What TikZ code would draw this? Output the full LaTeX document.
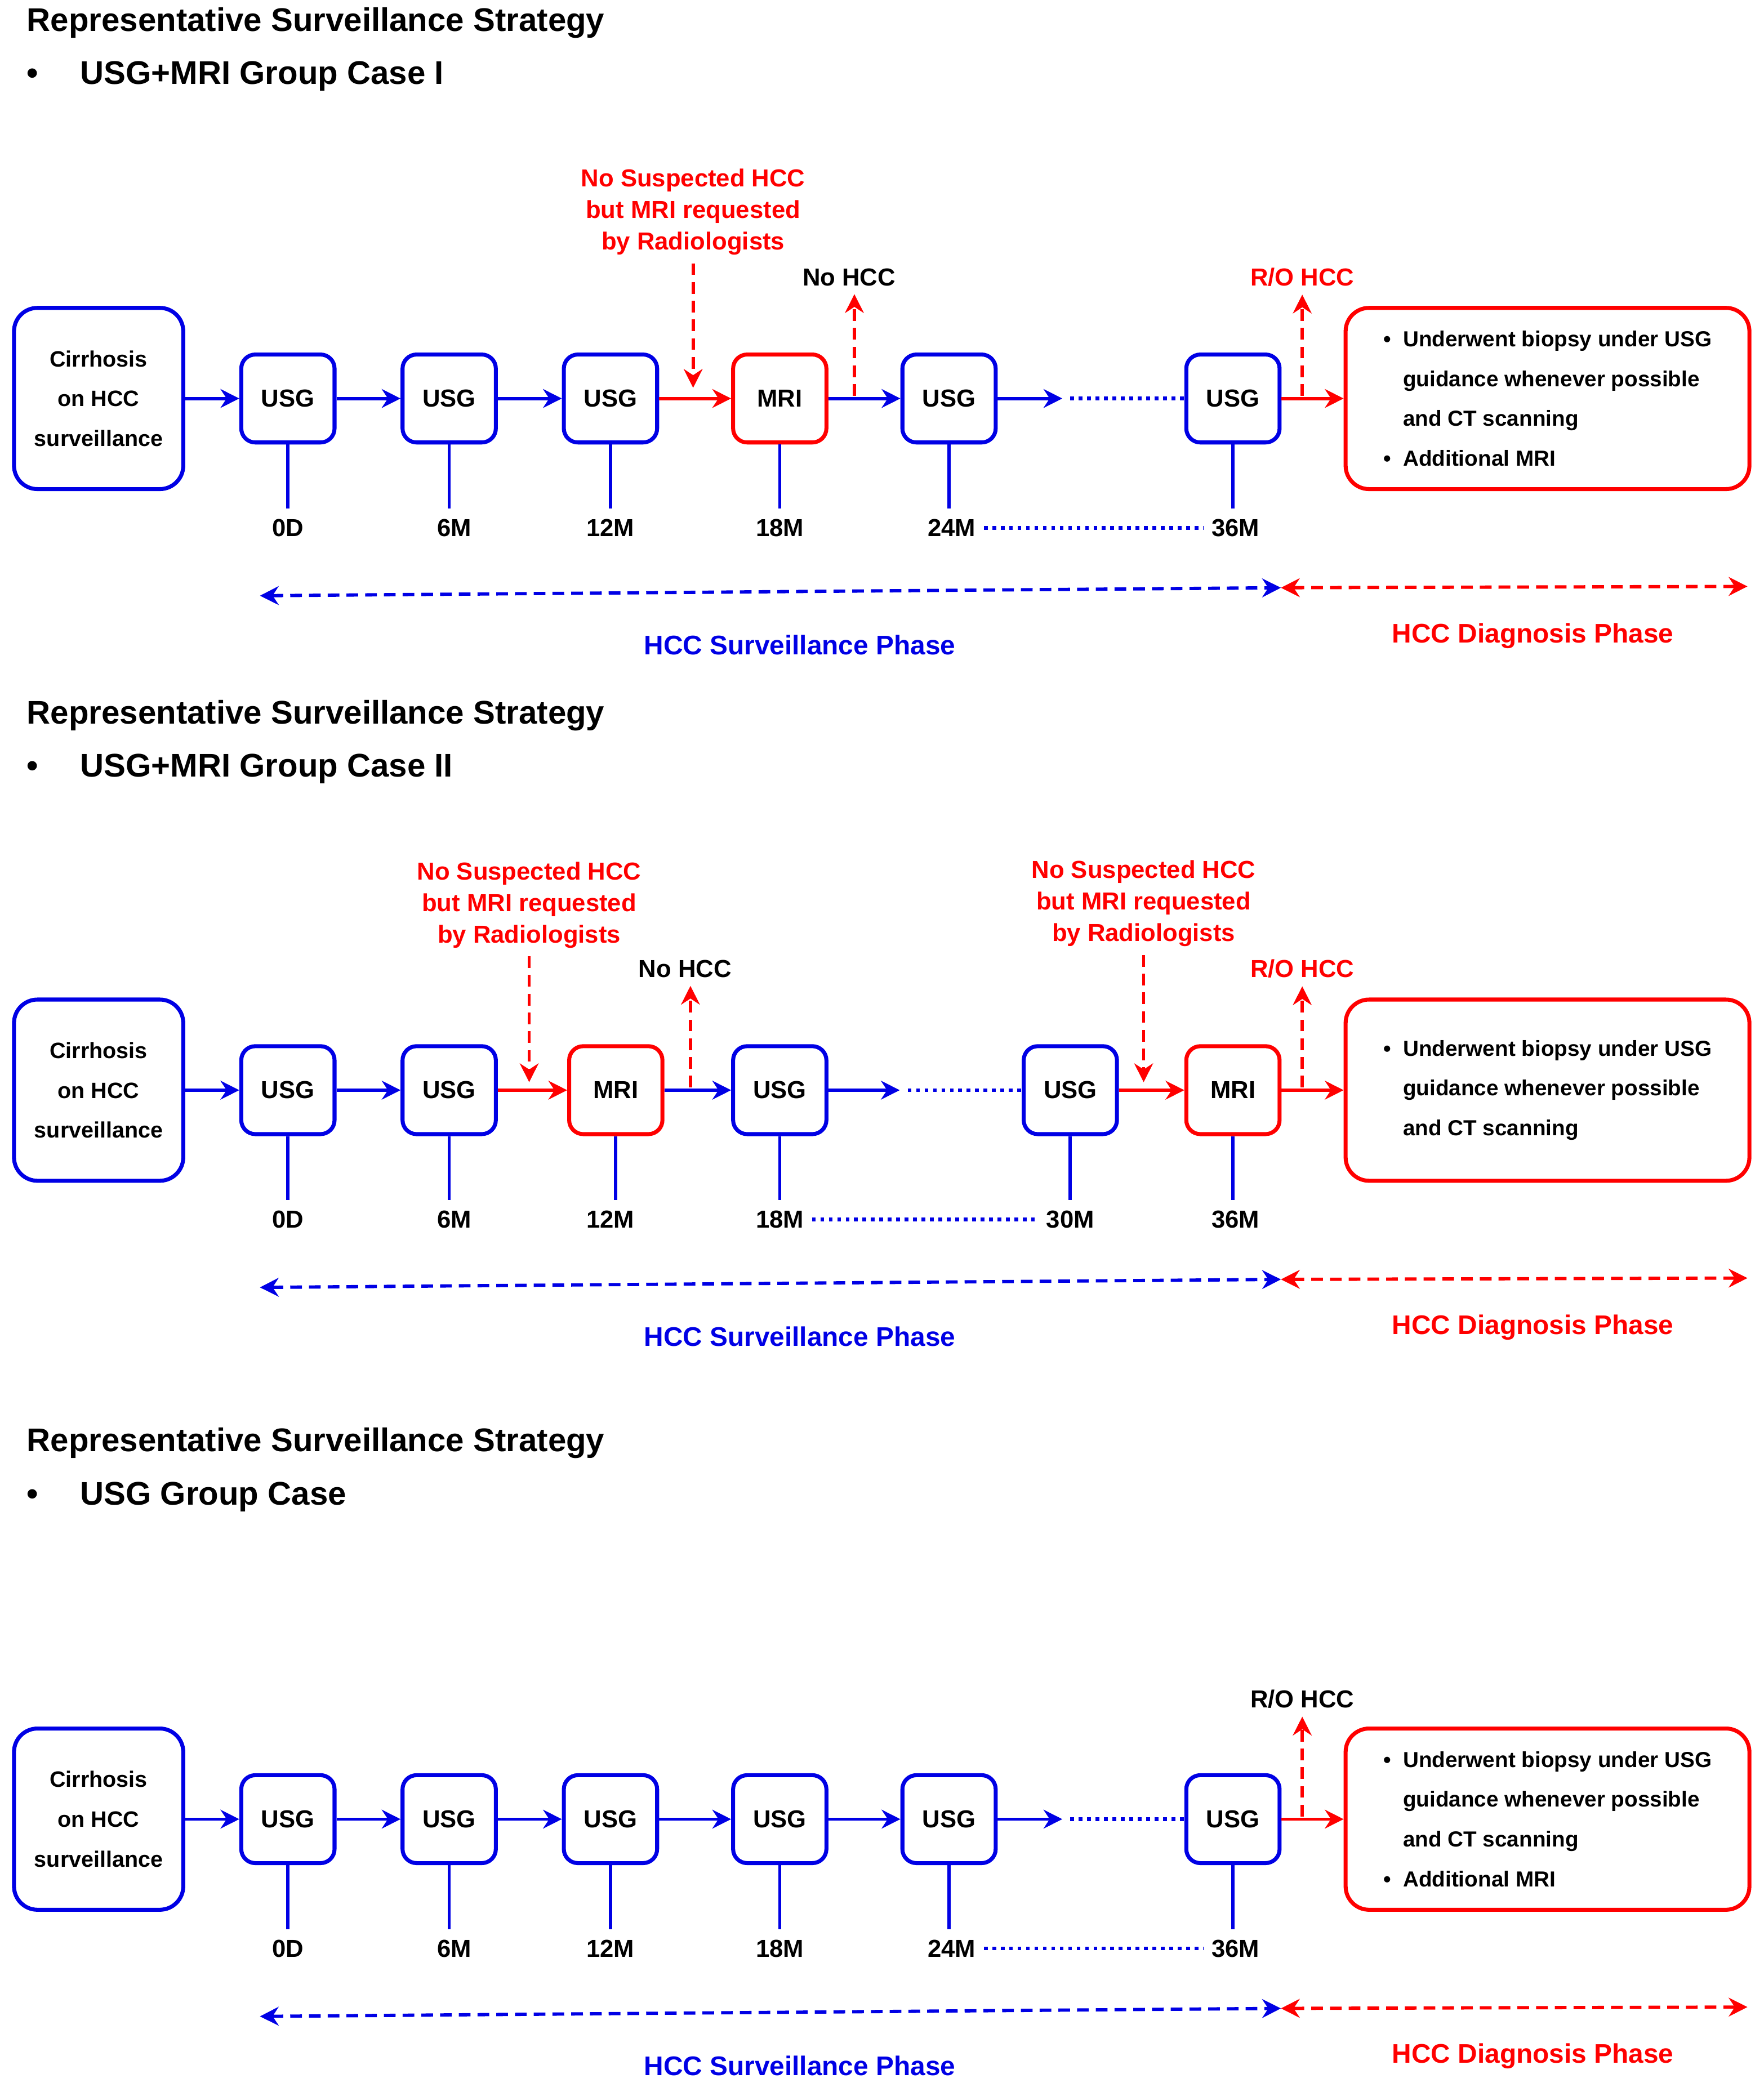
\documentclass[tikz,border=0pt]{standalone}
\usepackage{fontspec}
\setmainfont{Liberation Sans}
\usetikzlibrary{positioning,arrows.meta}
\tikzset{>={Stealth[length=8pt,width=8pt]}}
\colorlet{penBlue}{blue!90!black}
\colorlet{penRed}{red}
\tikzset{
  box/.style={draw=penBlue, line width=1.7pt, rounded corners=6pt, minimum width=1.4cm, minimum height=1.32cm, font=\fontsize{10.5}{13}\selectfont\bfseries},
  usg/.style={box},
  mri/.style={box, draw=penRed},
  cir/.style={box, minimum width=2.54cm, minimum height=2.72cm, align=center, rounded corners=10pt, font=\fontsize{9.5}{17}\selectfont\bfseries},
  big/.style={box, draw=penRed, minimum width=6.06cm, minimum height=2.72cm, align=left, rounded corners=10pt, font=\fontsize{9.3}{17}\selectfont\bfseries},
  barr/.style={->, penBlue, line width=1.4pt},
  rarr/.style={->, penRed, line width=1.4pt},
  rdash/.style={->, penRed, line width=1.4pt, dash pattern=on 5pt off 3pt},
  bdash/.style={<->, penBlue, line width=1.4pt, dash pattern=on 5pt off 3pt},
  rdashb/.style={<->, penRed, line width=1.4pt, dash pattern=on 5pt off 3pt},
  bdot/.style={penBlue, line width=1.6pt, dotted},
  tick/.style={penBlue, line width=1.4pt},
  lab/.style={font=\fontsize{10.5}{13}\selectfont\bfseries},
  rlab/.style={lab, text=penRed, align=center, font=\fontsize{10.5}{13.5}\selectfont\bfseries},
  title/.style={anchor=west, font=\fontsize{14}{16}\selectfont\bfseries},
  blphase/.style={lab, text=penBlue, font=\fontsize{11.5}{14}\selectfont\bfseries},
  rphase/.style={lab, text=penRed, font=\fontsize{11.5}{14}\selectfont\bfseries},
}
\begin{document}
\begin{tikzpicture}[x=0.02cm, y=-0.02cm]
\useasboundingbox (0,0) rectangle (1323,1563);

% ---- case I
\node[title] (t1) at (14,17) {Representative Surveillance Strategy};
\node[title] (s1) at (14,57) {\textbullet\quad\ USG+MRI Group Case I};
\node[cir] (a0) at (74,299) {Cirrhosis\\on HCC\\surveillance};
\node[usg] (a1) at (216,299) {USG};
\node[usg] (a2) at (337,299) {USG};
\node[usg] (a3) at (458,299) {USG};
\node[mri] (a4) at (585,299) {MRI};
\node[usg] (a5) at (712,299) {USG};
\node[usg] (a6) at (925,299) {USG};
\node[big] (aD) at (1161,299) {\textbullet\ \ Underwent biopsy under USG\\\phantom{\textbullet\ \ }guidance whenever possible\\\phantom{\textbullet\ \ }and CT scanning\\\textbullet\ \ Additional MRI};
\draw[barr] (a0) -- (a1);
\draw[barr] (a1) -- (a2);
\draw[barr] (a2) -- (a3);
\draw[rarr] (a3) -- (a4);
\draw[barr] (a4) -- (a5);
\coordinate (a5e) at (797,299);
\draw[barr] (a5) -- (a5e);
\draw[bdot] (803,299) -- (a6.west);
\draw[rarr] (a6) -- (aD);
\node[rlab] (aq) at (520,159) {No Suspected HCC\\but MRI requested\\by Radiologists};
\coordinate (aqe) at (520,291);
\draw[rdash] (aq.south) -- (aqe);
\node[lab] (an) at (637,208) {No HCC};
\coordinate (ans) at (641,297);
\draw[rdash] (ans) -- (ans |- an.south);
\node[rlab] (ar) at (977,208) {R/O HCC};
\coordinate (ars) at (977,297);
\draw[rdash] (ars) -- (ar.south);
\foreach \n/\t/\x in {1/0D/216,2/6M/341,3/12M/458,4/18M/585,5/24M/714,6/36M/927}{
  \node[lab] (al\n) at (\x,396) {\t};
  \draw[tick] (a\n.south) -- ++(0,48);
}
\draw[bdot] (al5.east) -- (al6.west);
\coordinate (ap1) at (195,447);
\coordinate (ap2) at (961,441);
\coordinate (ap3) at (1311,440);
\draw[bdash] (ap1) -- (ap2);
\draw[rdashb] (ap2) -- (ap3);
\node[blphase] (ab) at (600,484) {HCC Surveillance Phase};
\node[rphase] (ad) at (1150,477) {HCC Diagnosis Phase};

% ---- case II
\node[title] (t2) at (14,537) {Representative Surveillance Strategy};
\node[title] (s2) at (14,577) {\textbullet\quad\ USG+MRI Group Case II};
\node[cir] (b0) at (74,818) {Cirrhosis\\on HCC\\surveillance};
\node[usg] (b1) at (216,818) {USG};
\node[usg] (b2) at (337,818) {USG};
\node[mri] (b3) at (462,818) {MRI};
\node[usg] (b4) at (585,818) {USG};
\node[usg] (b5) at (803,818) {USG};
\node[mri] (b6) at (925,818) {MRI};
\node[big] (bD) at (1161,818) {\textbullet\ \ Underwent biopsy under USG\\\phantom{\textbullet\ \ }guidance whenever possible\\\phantom{\textbullet\ \ }and CT scanning};
\draw[barr] (b0) -- (b1);
\draw[barr] (b1) -- (b2);
\draw[rarr] (b2) -- (b3);
\draw[barr] (b3) -- (b4);
\coordinate (b4e) at (675,818);
\draw[barr] (b4) -- (b4e);
\draw[bdot] (681,818) -- (b5.west);
\draw[rarr] (b5) -- (b6);
\draw[rarr] (b6) -- (bD);
\node[rlab] (bq) at (397,679) {No Suspected HCC\\but MRI requested\\by Radiologists};
\coordinate (bqe) at (397,812);
\draw[rdash] (bq.south) -- (bqe);
\node[rlab] (bq2) at (858,678) {No Suspected HCC\\but MRI requested\\by Radiologists};
\coordinate (bq2e) at (858,812);
\draw[rdash] (bq2.south) -- (bq2e);
\node[lab] (bn) at (514,727) {No HCC};
\coordinate (bns) at (518,816);
\draw[rdash] (bns) -- (bns |- bn.south);
\node[rlab] (br) at (977,727) {R/O HCC};
\coordinate (brs) at (977,816);
\draw[rdash] (brs) -- (br.south);
\foreach \n/\t/\x in {1/0D/216,2/6M/341,3/12M/458,4/18M/585,5/30M/803,6/36M/927}{
  \node[lab] (bl\n) at (\x,915) {\t};
  \draw[tick] (b\n.south) -- ++(0,48);
}
\draw[bdot] (bl4.east) -- (bl5.west);
\coordinate (bp1) at (195,966);
\coordinate (bp2) at (961,960);
\coordinate (bp3) at (1311,959);
\draw[bdash] (bp1) -- (bp2);
\draw[rdashb] (bp2) -- (bp3);
\node[blphase] (bb) at (600,1003) {HCC Surveillance Phase};
\node[rphase] (bd) at (1150,996) {HCC Diagnosis Phase};

% ---- USG group
\node[title] (t3) at (14,1083) {Representative Surveillance Strategy};
\node[title] (s3) at (14,1123) {\textbullet\quad\ USG Group Case};
\node[cir] (c0) at (74,1365) {Cirrhosis\\on HCC\\surveillance};
\foreach \n/\x in {1/216,2/337,3/458,4/585,5/712,6/925}{
  \node[usg] (c\n) at (\x,1365) {USG};
}
\node[big] (cD) at (1161,1365) {\textbullet\ \ Underwent biopsy under USG\\\phantom{\textbullet\ \ }guidance whenever possible\\\phantom{\textbullet\ \ }and CT scanning\\\textbullet\ \ Additional MRI};
\draw[barr] (c0) -- (c1);
\foreach \a/\b in {1/2,2/3,3/4,4/5}{
  \draw[barr] (c\a) -- (c\b);
}
\coordinate (c5e) at (797,1365);
\draw[barr] (c5) -- (c5e);
\draw[bdot] (803,1365) -- (c6.west);
\draw[rarr] (c6) -- (cD);
\node[lab] (cr) at (977,1275) {R/O HCC};
\coordinate (crs) at (977,1363);
\draw[rdash] (crs) -- (cr.south);
\foreach \n/\t/\x in {1/0D/216,2/6M/341,3/12M/458,4/18M/585,5/24M/714,6/36M/927}{
  \node[lab] (cl\n) at (\x,1462) {\t};
  \draw[tick] (c\n.south) -- ++(0,48);
}
\draw[bdot] (cl5.east) -- (cl6.west);
\coordinate (cp1) at (195,1513);
\coordinate (cp2) at (961,1507);
\coordinate (cp3) at (1311,1506);
\draw[bdash] (cp1) -- (cp2);
\draw[rdashb] (cp2) -- (cp3);
\node[blphase] (cb) at (600,1550) {HCC Surveillance Phase};
\node[rphase] (cd) at (1150,1543) {HCC Diagnosis Phase};
\end{tikzpicture}
\end{document}
